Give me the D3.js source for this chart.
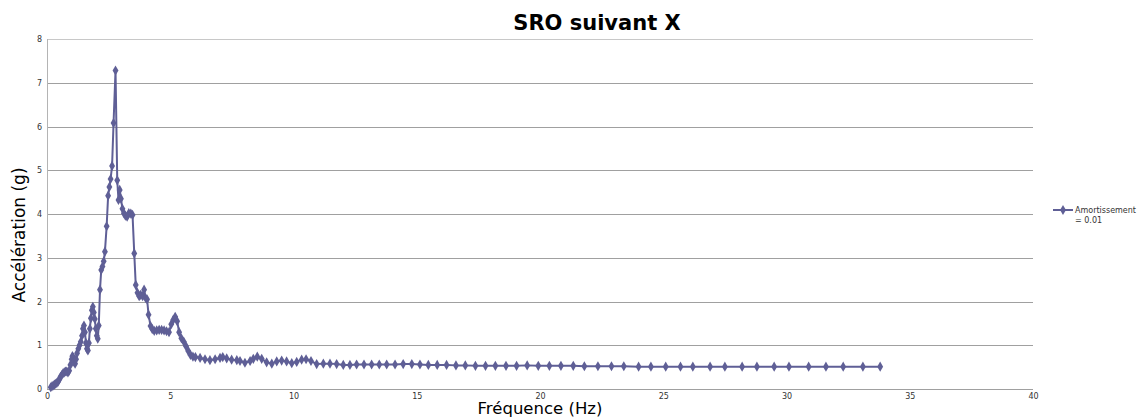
<!DOCTYPE html>
<html>
<head>
<meta charset="utf-8">
<script src="https://cdnjs.cloudflare.com/ajax/libs/d3/7.8.5/d3.min.js"></script>
<style>
  body { margin: 0; background: #fff; }
  svg { font-family: "DejaVu Sans", sans-serif; }
</style>
</head>
<body>
<div id="chart"></div>
<script>
// chart values
const title = 'SRO suivant X';
const xLabel = 'Fréquence (Hz)';
const yLabel = 'Accélération (g)';
const seriesName = ['Amortissement', '= 0.01'];

const xTicks = [0, 5, 10, 15, 20, 25, 30, 35, 40];
const yTicks = [0, 1, 2, 3, 4, 5, 6, 7, 8];

const freq = [
  0.15, 0.2, 0.25, 0.3, 0.35, 0.4, 0.45, 0.5, 0.55, 0.6, 0.65, 0.7, 0.75, 0.8, 0.85, 0.9, 0.95,
  1.0, 1.03, 1.07, 1.1, 1.14, 1.18, 1.22, 1.27, 1.32, 1.37, 1.42, 1.46, 1.5, 1.54, 1.58, 1.62,
  1.66, 1.7, 1.74, 1.78, 1.82, 1.86, 1.9, 1.94, 1.98, 2.02, 2.06, 2.1, 2.15, 2.2, 2.25, 2.3,
  2.35, 2.42, 2.48, 2.53, 2.58, 2.64, 2.7, 2.78, 2.85, 2.9, 2.95, 3.0, 3.06, 3.12, 3.18, 3.25,
  3.32, 3.4, 3.47, 3.54, 3.6, 3.67, 3.74, 3.8, 3.88, 3.94, 4.0, 4.06, 4.12, 4.2, 4.27, 4.35,
  4.45, 4.55, 4.65, 4.75, 4.85, 4.95, 5.04, 5.12, 5.2, 5.28, 5.36, 5.45, 5.55, 5.64, 5.73,
  5.82, 5.92, 6.02, 6.21, 6.41, 6.61, 6.82, 7.02, 7.13, 7.29, 7.49, 7.7, 7.83, 8.03, 8.24,
  8.37, 8.53, 8.71, 8.91, 9.12, 9.32, 9.52, 9.72, 9.93, 10.13, 10.33, 10.51, 10.71, 10.94,
  11.21, 11.48, 11.75, 12.02, 12.29, 12.56, 12.86, 13.17, 13.48, 13.78, 14.12, 14.45, 14.8,
  15.13, 15.47, 15.83, 16.21, 16.59, 16.97, 17.38, 17.79, 18.19, 18.62, 19.05, 19.48, 19.93,
  20.38, 20.85, 21.35, 21.8, 22.35, 22.9, 23.4, 24.0, 24.5, 25.1, 25.7, 26.2, 26.9, 27.5,
  28.2, 28.8, 29.5, 30.1, 30.9, 31.6, 32.3, 33.1, 33.8
];

const accel = [
  0.04, 0.06, 0.08, 0.1, 0.12, 0.14, 0.17, 0.22, 0.28, 0.32, 0.36, 0.38, 0.4, 0.4, 0.38, 0.42, 0.55,
  0.68, 0.75, 0.72, 0.62, 0.58, 0.68, 0.82, 0.92, 1.0, 1.08, 1.22, 1.38, 1.45, 1.3, 1.05, 0.92,
  0.88, 1.05, 1.38, 1.62, 1.8, 1.88, 1.75, 1.6, 1.38, 1.22, 1.15, 1.45, 2.27, 2.72, 2.8, 2.92,
  3.14, 3.72, 4.42, 4.62, 4.8, 5.1, 6.08, 7.28, 4.77, 4.32, 4.55, 4.35, 4.12, 4.02, 3.96, 3.94,
  4.02, 4.01, 3.98, 3.1, 2.38, 2.2, 2.12, 2.15, 2.12, 2.27, 2.08, 2.05, 1.7, 1.44, 1.37, 1.33,
  1.34, 1.35, 1.35, 1.34, 1.32, 1.3, 1.48, 1.58, 1.65, 1.55, 1.3, 1.16, 1.08, 0.98, 0.87,
  0.78, 0.74, 0.73, 0.71, 0.68, 0.66, 0.68, 0.71, 0.73, 0.7, 0.67, 0.66, 0.64, 0.6, 0.64,
  0.69, 0.74, 0.69, 0.61, 0.58, 0.63, 0.65, 0.63, 0.59, 0.62, 0.67, 0.68, 0.64, 0.57,
  0.58, 0.58, 0.57, 0.55, 0.55, 0.56, 0.56, 0.56, 0.56, 0.56, 0.56, 0.57, 0.57,
  0.56, 0.55, 0.55, 0.55, 0.54, 0.54, 0.53, 0.53, 0.53, 0.53, 0.53, 0.54, 0.53,
  0.53, 0.53, 0.53, 0.52, 0.52, 0.52, 0.52, 0.51, 0.51, 0.51, 0.51, 0.51, 0.51, 0.51,
  0.51, 0.51, 0.51, 0.51, 0.51, 0.51, 0.51, 0.51, 0.51
];

const data = freq.map((f, i) => ({ f: f, v: accel[i] }));

const width = 1143, height = 418;
const margin = { left: 47, right: 110, top: 39, bottom: 29 };
const lineColor = '#5f5f96';

const svg = d3.select('#chart').append('svg')
  .attr('width', width)
  .attr('height', height);

const x = d3.scaleLinear().domain([0, 40]).range([margin.left, width - margin.right]);
const y = d3.scaleLinear().domain([0, 8]).range([height - margin.bottom, margin.top]);

// horizontal grid
svg.append('g')
  .selectAll('line')
  .data(yTicks)
  .join('line')
  .attr('x1', x(0))
  .attr('x2', x(40))
  .attr('y1', d => Math.round(y(d)) + 0.5)
  .attr('y2', d => Math.round(y(d)) + 0.5)
  .attr('stroke', d => d === 8 ? '#c8c8c8' : '#a0a0a0')
  .attr('stroke-width', 1);

// left axis line
svg.append('line')
  .attr('x1', x(0) + 0.5).attr('x2', x(0) + 0.5)
  .attr('y1', y(8)).attr('y2', y(0))
  .attr('stroke', '#b4b4b4');

// y axis tick labels
const yAxis = d3.axisLeft(y).tickValues(yTicks).tickSize(0).tickPadding(5);
const gY = svg.append('g')
  .attr('transform', 'translate(' + x(0) + ',0)')
  .call(yAxis);
gY.select('.domain').remove();
gY.selectAll('text')
  .attr('font-family', 'DejaVu Sans')
  .attr('font-size', 8)
  .attr('fill', '#333');

// x axis tick labels
const xAxis = d3.axisBottom(x).tickValues(xTicks).tickSize(0).tickPadding(4);
const gX = svg.append('g')
  .attr('transform', 'translate(0,' + y(0) + ')')
  .call(xAxis);
gX.select('.domain').remove();
gX.selectAll('text')
  .attr('font-family', 'DejaVu Sans')
  .attr('font-size', 8)
  .attr('fill', '#333');

// the line
const line = d3.line()
  .x(d => x(d.f))
  .y(d => y(d.v));

svg.append('path')
  .datum(data)
  .attr('d', line)
  .attr('fill', 'none')
  .attr('stroke', lineColor)
  .attr('stroke-width', 2)
  .attr('stroke-linejoin', 'round');

// diamond markers
const diamond = d3.symbol().type(d3.symbolDiamond).size(30);
svg.append('g')
  .selectAll('path')
  .data(data)
  .join('path')
  .attr('d', diamond)
  .attr('transform', d => 'translate(' + x(d.f) + ',' + y(d.v) + ')')
  .attr('fill', lineColor);

// title
svg.append('text')
  .attr('x', 597)
  .attr('y', 30)
  .attr('text-anchor', 'middle')
  .attr('font-size', 21)
  .attr('font-weight', 'bold')
  .attr('fill', '#000')
  .text(title);

// axis titles
svg.append('text')
  .attr('x', 540)
  .attr('y', 414)
  .attr('text-anchor', 'middle')
  .attr('font-size', 16.5)
  .attr('fill', '#000')
  .text(xLabel);

svg.append('text')
  .attr('transform', 'translate(25,235) rotate(-90)')
  .attr('text-anchor', 'middle')
  .attr('font-size', 17)
  .attr('fill', '#000')
  .text(yLabel);

// legend
const lg = svg.append('g').attr('transform', 'translate(1053,210)');
lg.append('line')
  .attr('x1', 0).attr('x2', 20)
  .attr('y1', 0).attr('y2', 0)
  .attr('stroke', lineColor)
  .attr('stroke-width', 2);
lg.append('path')
  .attr('d', diamond)
  .attr('transform', 'translate(10,0)')
  .attr('fill', lineColor);
lg.selectAll('text.leg')
  .data(seriesName)
  .join('text')
  .attr('class', 'leg')
  .attr('x', 22)
  .attr('y', (d, i) => 3 + i * 10)
  .attr('font-size', 8)
  .attr('fill', '#333')
  .text(d => d);
</script>
</body>
</html>
